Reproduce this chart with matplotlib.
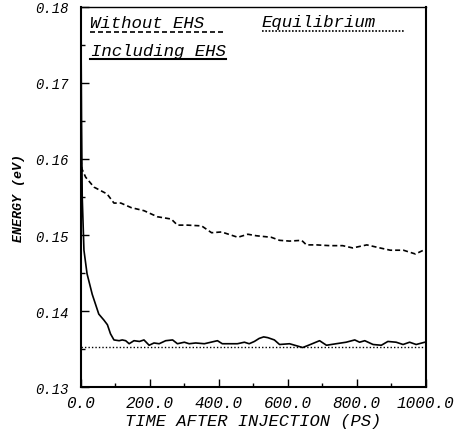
import numpy as np
import matplotlib
matplotlib.use("Agg")
import matplotlib.pyplot as plt
from matplotlib.ticker import MultipleLocator, FormatStrFormatter

# Energy relaxation after injection
# time in ps, energy in eV

# without EHS (dashed)
t_without = [0, 3, 14, 38, 76, 96, 116, 146, 183, 222, 262, 280, 309, 350, 379, 408,
             455, 484, 509, 552, 576, 605, 640, 654, 683, 722, 759, 788, 829, 867,
             897, 935, 970, 993, 1000]
e_without = [0.1600, 0.1587, 0.1576, 0.1563, 0.1554, 0.1542, 0.1542, 0.1536, 0.1532,
             0.1524, 0.1521, 0.1513, 0.1513, 0.1512, 0.1503, 0.1504, 0.1497, 0.1501,
             0.1499, 0.1497, 0.1493, 0.1492, 0.1493, 0.1487, 0.1487, 0.1486, 0.1486,
             0.1483, 0.1487, 0.1483, 0.1480, 0.1480, 0.1475, 0.1480, 0.1480]

# including EHS (solid)
t_with = [0, 2, 4, 9, 18, 33, 52, 67, 77, 86, 96, 111, 120, 130, 140, 154, 170, 183,
          198, 212, 227, 246, 266, 280, 300, 314, 333, 358, 377, 396, 410, 434, 454,
          474, 488, 503, 517, 530, 542, 561, 576, 605, 643, 660, 692, 712, 740, 769,
          794, 808, 823, 847, 871, 890, 914, 934, 953, 972, 997, 1000]
e_with = [0.1800, 0.1650, 0.1550, 0.1480, 0.1449, 0.1422, 0.1396, 0.1388, 0.1382,
          0.1370, 0.1362, 0.1361, 0.1362, 0.1361, 0.1357, 0.1361, 0.1360, 0.1362,
          0.1355, 0.1358, 0.1357, 0.1361, 0.1362, 0.1357, 0.1359, 0.1357, 0.1358,
          0.1357, 0.1359, 0.1361, 0.1357, 0.1357, 0.1357, 0.1359, 0.1357, 0.1360,
          0.1364, 0.1366, 0.1365, 0.1362, 0.1356, 0.1357, 0.1352, 0.1355, 0.1361,
          0.1355, 0.1357, 0.1359, 0.1362, 0.1359, 0.1361, 0.1356, 0.1355, 0.1360,
          0.1359, 0.1356, 0.1359, 0.1356, 0.1359, 0.1359]

# equilibrium level (dotted)
t_eq = [0, 1000]
e_eq = [0.1353, 0.1353]

mono = 'Liberation Mono'

fig = plt.figure(figsize=(4.7, 4.39), dpi=100)
ax = fig.add_axes([0.172, 0.116, 0.734, 0.866])

ax.plot(t_without, e_without, color='black', lw=1.2, ls=(0, (3, 1.8)))
ax.plot(t_with, e_with, color='black', lw=1.2)
ax.plot(t_eq, e_eq, color='black', lw=1.0, ls=(0, (1, 1.5)))

ax.set_xlim(0, 1000)
ax.set_ylim(0.13, 0.18)
ax.xaxis.set_major_locator(MultipleLocator(200))
ax.xaxis.set_minor_locator(MultipleLocator(100))
ax.yaxis.set_major_locator(MultipleLocator(0.01))
ax.yaxis.set_minor_locator(MultipleLocator(0.005))
ax.xaxis.set_major_formatter(FormatStrFormatter('%.1f'))
ax.yaxis.set_major_formatter(FormatStrFormatter('%.2f'))
ax.tick_params(which='both', direction='in', top=False, right=False)
ax.tick_params(which='major', length=6, width=1.0)
ax.tick_params(which='minor', length=3, width=1.0)
ax.tick_params(axis='x', labelsize=11.5, pad=6)
ax.tick_params(axis='y', labelsize=10, pad=9)
for lab in ax.get_xticklabels() + ax.get_yticklabels():
    lab.set_fontfamily(mono)
    lab.set_fontstyle('italic')
for sp in ax.spines.values():
    sp.set_linewidth(1.5)
ax.spines['top'].set_linewidth(1.0)

ax.set_xlabel('TIME AFTER INJECTION (PS)', fontsize=12.3, family=mono, style='italic', labelpad=2)
ax.set_ylabel('ENERGY (eV)', fontsize=9.5, family=mono, style='italic', weight='bold', labelpad=7)

# hand-drawn style legend: labels with a sample line underneath
tr = ax.transAxes
ax.text(0.026, 0.946, 'Without EHS', transform=tr, fontsize=12.5, family=mono,
        style='italic', va='baseline')
ax.plot([0.026, 0.42], [0.934, 0.934], transform=tr, color='black', lw=1.2,
        ls=(0, (3, 1.8)))
ax.text(0.03, 0.873, 'Including EHS', transform=tr, fontsize=12.5, family=mono,
        style='italic', va='baseline')
ax.plot([0.026, 0.42], [0.862, 0.862], transform=tr, color='black', lw=1.5)
ax.text(0.525, 0.951, 'Equilibrium', transform=tr, fontsize=12.5, family=mono,
        style='italic', va='baseline')
ax.plot([0.525, 0.94], [0.937, 0.937], transform=tr, color='black', lw=1.2,
        ls=(0, (1, 1)))

fig.savefig('out.png', dpi=100)
